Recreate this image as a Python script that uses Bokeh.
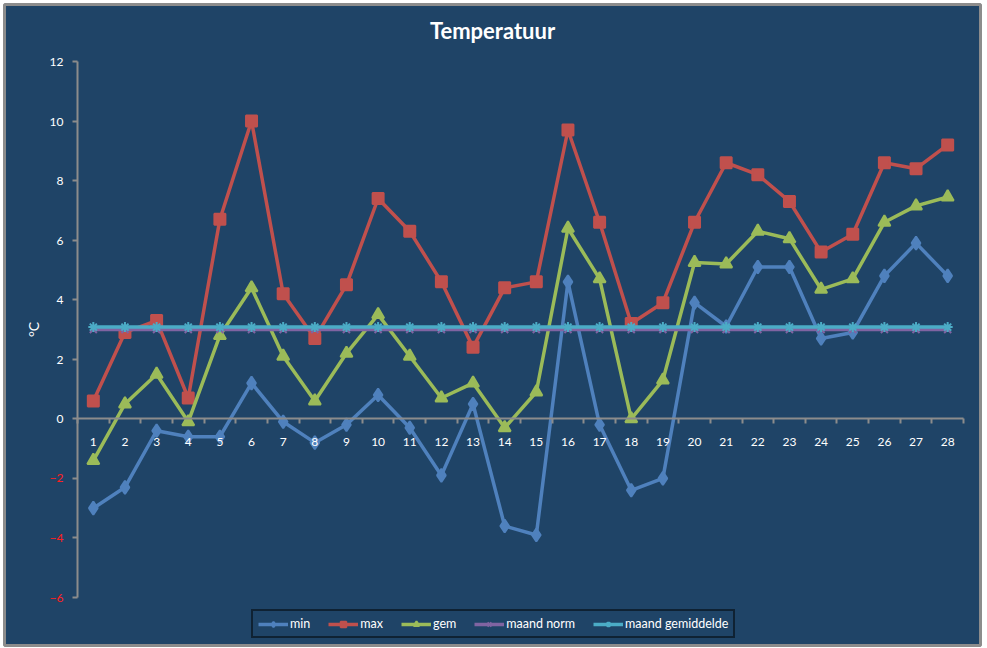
from bokeh.plotting import figure
from bokeh.models import (ColumnDataSource, FixedTicker, LinearAxis, Legend,
                          LegendItem, Range1d, Label)
from bokeh.embed import file_html
from bokeh.resources import INLINE

# day of month (februari)
days = list(range(1, 29))
t_min = [-3.0, -2.3, -0.4, -0.6, -0.6, 1.2, -0.1, -0.8, -0.2, 0.8, -0.3, -1.9, 0.5, -3.6,
         -3.9, 4.6, -0.2, -2.4, -2.0, 3.9, 3.1, 5.1, 5.1, 2.7, 2.9, 4.8, 5.9, 4.8]
t_max = [0.6, 2.9, 3.3, 0.7, 6.7, 10.0, 4.2, 2.7, 4.5, 7.4, 6.3, 4.6, 2.4, 4.4,
         4.6, 9.7, 6.6, 3.2, 3.9, 6.6, 8.6, 8.2, 7.3, 5.6, 6.2, 8.6, 8.4, 9.2]
t_gem = [-1.4, 0.5, 1.5, -0.1, 2.8, 4.4, 2.1, 0.6, 2.2, 3.5, 2.1, 0.7, 1.2, -0.3,
         0.9, 6.4, 4.7, 0.0, 1.3, 5.25, 5.2, 6.3, 6.05, 4.35, 4.7, 6.6, 7.15, 7.45]
maand_norm = [3.0] * 28
maand_gem = [3.08] * 28

y_ticks = [-6, -4, -2, 0, 2, 4, 6, 8, 10, 12]
y_lo, y_hi = -6, 12
x_lo, x_hi = 0.5, 28.5

BG = "#1f4467"
AXIS = "#8c8c8c"
FONT = "Lato"

# the whole chart area is the plot frame, so texts outside the axes are not clipped
FW, FH = 976, 641
PAD_L, PAD_R, PAD_T, PAD_B = 73, 17, 57, 48
x_scale = (FW - PAD_L - PAD_R) / (x_hi - x_lo)
y_scale = (FH - PAD_T - PAD_B) / (y_hi - y_lo)
x_range = Range1d(x_lo - PAD_L / x_scale, x_hi + PAD_R / x_scale)
y_range = Range1d(y_lo - PAD_B / y_scale, y_hi + PAD_T / y_scale)

source = ColumnDataSource(data=dict(day=days, tmin=t_min, tmax=t_max, gem=t_gem,
                                    norm=maand_norm, mgem=maand_gem))

p = figure(frame_width=FW, frame_height=FH, output_backend="svg", toolbar_location=None,
           x_range=x_range, y_range=y_range,
           min_border_left=4, min_border_right=4, min_border_top=4, min_border_bottom=2)

p.background_fill_color = BG
p.border_fill_color = "white"
p.outline_line_color = AXIS
p.outline_line_width = 3
p.grid.visible = False

title = Label(x=(x_range.start + x_range.end) / 2, y=y_range.end - 26 / y_scale,
              text="Temperatuur", text_align="center", text_baseline="middle",
              text_color="white", text_font=FONT, text_font_size="22px",
              text_font_style="bold")
p.add_layout(title)

# x axis crossing at 0, labels on the days, tick marks between the days
p.xaxis.fixed_location = 0
p.xaxis.bounds = (x_lo, x_hi)
p.xaxis.ticker = FixedTicker(ticks=days, minor_ticks=[d - 0.5 for d in days] + [x_hi])
p.xaxis.axis_line_color = AXIS
p.xaxis.axis_line_width = 2
p.xaxis.major_tick_line_color = None
p.xaxis.major_tick_out = 0
p.xaxis.minor_tick_line_color = AXIS
p.xaxis.minor_tick_line_width = 2
p.xaxis.minor_tick_out = 5
p.xaxis.minor_tick_in = 0
p.xaxis.major_label_standoff = 14
p.xaxis.major_label_text_color = "white"
p.xaxis.major_label_text_font = FONT
p.xaxis.major_label_text_font_size = "12px"

# y axis, labels of negative values are drawn red by a second axis
p.yaxis.fixed_location = x_lo
p.yaxis.bounds = (y_lo, y_hi)
p.yaxis.ticker = FixedTicker(ticks=y_ticks)
p.yaxis.major_label_overrides = {t: " " for t in y_ticks if t < 0}
p.yaxis.axis_line_color = AXIS
p.yaxis.axis_line_width = 2
p.yaxis.major_tick_line_color = AXIS
p.yaxis.major_tick_line_width = 2
p.yaxis.major_tick_out = 5
p.yaxis.major_tick_in = 0
p.yaxis.minor_tick_line_color = None
p.yaxis.major_label_text_color = "white"
p.yaxis.major_label_text_font = FONT
p.yaxis.major_label_text_font_size = "12px"
p.yaxis.major_label_standoff = 9
p.yaxis.axis_label = "°C"
p.yaxis.axis_label_text_color = "white"
p.yaxis.axis_label_text_font = FONT
p.yaxis.axis_label_text_font_style = "normal"
p.yaxis.axis_label_text_font_size = "14px"
p.yaxis.axis_label_standoff = 5

neg_axis = LinearAxis(ticker=FixedTicker(ticks=[t for t in y_ticks if t < 0]),
                      fixed_location=x_lo, bounds=(y_lo, y_hi))
neg_axis.axis_line_color = None
neg_axis.major_tick_line_color = None
neg_axis.minor_tick_line_color = None
neg_axis.major_tick_out = 5
neg_axis.major_label_standoff = 9
neg_axis.major_label_text_color = "#ff2020"
neg_axis.major_label_text_font = FONT
neg_axis.major_label_text_font_size = "12px"
p.add_layout(neg_axis, "left")

series = [
    ("min", "tmin", "#4f81bd", "diamond", 13),
    ("max", "tmax", "#c0504d", "square", 11),
    ("gem", "gem", "#9bbb59", "triangle", 12),
    ("maand norm", "norm", "#8064a2", "x", 10),
    ("maand gemiddelde", "mgem", "#4bacc6", "asterisk", 10),
]

items = []
for name, col, color, marker, size in series:
    ln = p.line("day", col, source=source, line_color=color, line_width=3.5)
    sc = p.scatter("day", col, source=source, marker=marker, size=size,
                   fill_color=color, line_color=color, line_width=2)
    items.append(LegendItem(label=name, renderers=[ln, sc]))

legend = Legend(items=items, orientation="horizontal", location=(247, 7))
legend.background_fill_color = BG
legend.background_fill_alpha = 1
legend.border_line_color = "black"
legend.border_line_width = 2
legend.label_text_color = "white"
legend.label_text_font = FONT
legend.label_text_font_size = "12.5px"
legend.label_standoff = 2
legend.label_height = 14
legend.glyph_width = 30
legend.glyph_height = 14
legend.spacing = 18
legend.padding = 5
legend.margin = 0
p.add_layout(legend, "center")

open("out.html", "w").write(file_html(p, INLINE))
